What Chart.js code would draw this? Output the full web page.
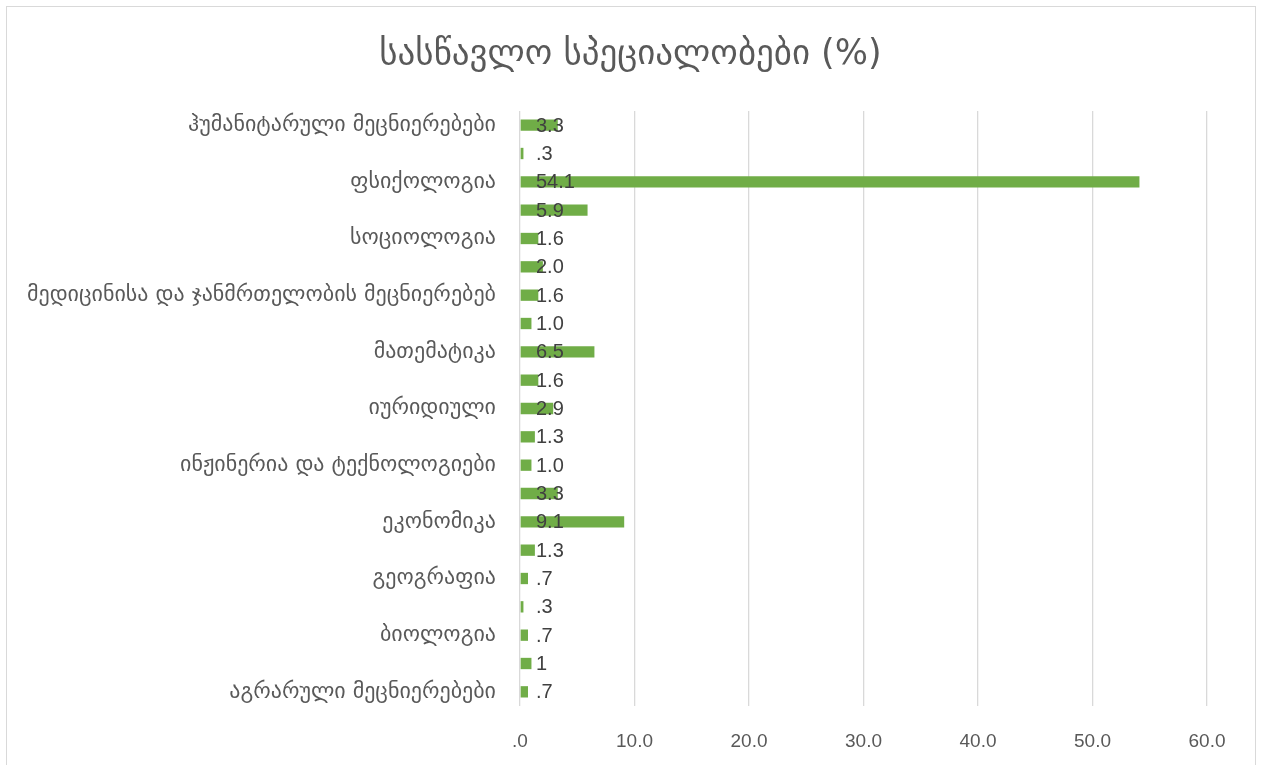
<!DOCTYPE html>
<html>
<head>
<meta charset="utf-8">
<script src="https://cdn.jsdelivr.net/npm/chart.js@4.4.1/dist/chart.umd.min.js"></script>
<style>
  html, body { margin: 0; padding: 0; background: #fff; overflow: hidden; }
  #wrap { width: 1261px; height: 765px; position: relative; }
</style>
</head>
<body>
<div id="wrap"><canvas id="chart"></canvas></div>
<script>
const TITLE = "სასწავლო სპეციალობები (%)";

// only every second category label is visible in the picture
const categories = [
  "ჰუმანიტარული მეცნიერებები", "",
  "ფსიქოლოგია", "",
  "სოციოლოგია", "",
  "მედიცინისა და ჯანმრთელობის მეცნიერებებ", "",
  "მათემატიკა", "",
  "იურიდიული", "",
  "ინჟინერია და ტექნოლოგიები", "",
  "ეკონომიკა", "",
  "გეოგრაფია", "",
  "ბიოლოგია", "",
  "აგრარული მეცნიერებები",
];

const values = [
  3.3, 0.3, 54.1, 5.9, 1.6, 2.0, 1.6, 1.0, 6.5, 1.6, 2.9,
  1.3, 1.0, 3.3, 9.1, 1.3, 0.7, 0.3, 0.7, 1, 0.7,
];

const valueLabels = [
  "3.3", ".3", "54.1", "5.9", "1.6", "2.0", "1.6", "1.0", "6.5", "1.6", "2.9",
  "1.3", "1.0", "3.3", "9.1", "1.3", ".7", ".3", ".7", "1", ".7",
];

const xTicks = [0, 10, 20, 30, 40, 50, 60];

const GEO_FONT = "'DejaVu Sans', 'Noto Sans', sans-serif";
const NUM_FONT = "'Liberation Sans', Arial, sans-serif";

// outer frame and title (title is centred on the whole canvas, like Excel)
const frame = {
  id: "frame",
  beforeDraw(chart) {
    const ctx = chart.ctx;
    ctx.save();
    ctx.fillStyle = "#fff";
    ctx.fillRect(0, 0, chart.width, chart.height);
    ctx.strokeStyle = "#d9d9d9";
    ctx.lineWidth = 1;
    ctx.strokeRect(6.5, 6.5, 1249, 800);
    ctx.font = "35px " + GEO_FONT;
    ctx.fillStyle = "#595959";
    ctx.textAlign = "center";
    ctx.textBaseline = "middle";
    ctx.fillText(TITLE, chart.width / 2, 55);
    ctx.restore();
  },
};

const barLabels = {
  id: "barLabels",
  afterDatasetsDraw(chart) {
    const ctx = chart.ctx;
    const x0 = chart.scales.x.getPixelForValue(0);
    ctx.save();
    ctx.font = "20px " + NUM_FONT;
    ctx.fillStyle = "#404040";
    ctx.textAlign = "left";
    ctx.textBaseline = "middle";
    chart.getDatasetMeta(0).data.forEach((bar, i) => {
      ctx.fillText(valueLabels[i], x0 + 16, bar.y + 1);
    });
    ctx.restore();
  },
};

new Chart(document.getElementById("chart"), {
  type: "bar",
  data: {
    labels: categories,
    datasets: [
      {
        data: values,
        backgroundColor: "#70ad47",
        borderWidth: 0,
        barPercentage: 0.4,
        categoryPercentage: 1,
      },
    ],
  },
  options: {
    indexAxis: "y",
    responsive: true,
    maintainAspectRatio: false,
    animation: false,
    layout: {
      padding: { left: 0, right: 54, top: 111, bottom: 0 },
    },
    plugins: {
      legend: { display: false },
      tooltip: { enabled: false },
      title: { display: false },
    },
    scales: {
      x: {
        min: 0,
        max: 60,
        afterBuildTicks(scale) {
          scale.ticks = xTicks.map((v) => ({ value: v }));
        },
        afterFit(scale) {
          scale.height = 59;
        },
        grid: { color: "#d9d9d9", lineWidth: 1.3, drawTicks: false },
        border: { display: false },
        ticks: {
          color: "#595959",
          font: { family: NUM_FONT, size: 19 },
          padding: 24,
          callback(value) {
            return value === 0 ? ".0" : value.toFixed(1);
          },
        },
      },
      y: {
        afterFit(scale) {
          scale.width = 520;
        },
        grid: { display: false },
        border: { display: false },
        ticks: {
          autoSkip: false,
          color: "#595959",
          font: { family: GEO_FONT, size: 22 },
          padding: 16,
        },
      },
    },
  },
  plugins: [frame, barLabels],
});
</script>
</body>
</html>
